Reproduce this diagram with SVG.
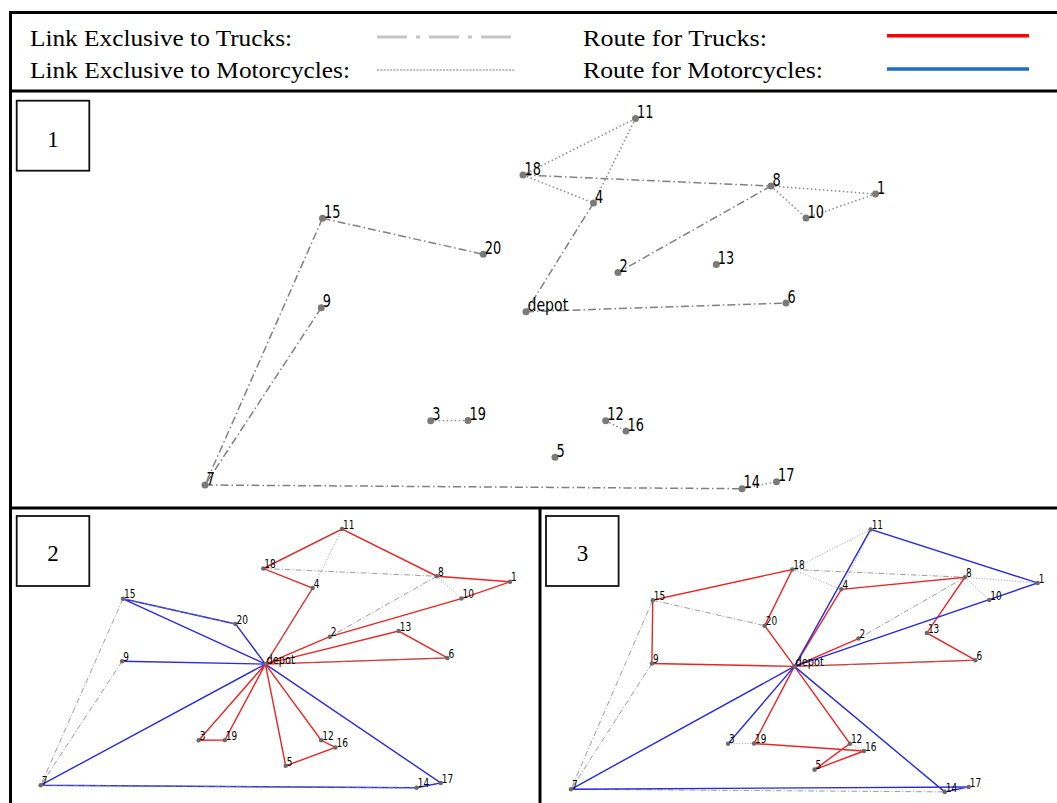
<svg xmlns="http://www.w3.org/2000/svg" width="1057" height="803" viewBox="0 0 1057 803">
<style>
.frame{stroke:#000;stroke-width:3;fill:none}
.nbox{fill:#fff;stroke:#111;stroke-width:1.8}
.ntxt{font-family:"Liberation Serif",serif;font-size:23px;fill:#000;text-anchor:middle}
.leg{font-family:"Liberation Serif",serif;font-size:24px;fill:#000}
.lb{font-family:"DejaVu Sans",sans-serif;font-size:18px;fill:#000}
.p1 circle{fill:#7a7a7a}
.p23 circle{fill:#6a6a6a}
.dd{stroke:#808080;stroke-width:1.5;fill:none;stroke-dasharray:8 3 1.5 3}
.dt{stroke:#8a8a8a;stroke-width:1.5;fill:none;stroke-dasharray:1.5 2.5}
.gdd{stroke:#9a9a9a;stroke-width:1.4;fill:none;stroke-dasharray:8 3 1.5 3}
.gdt{stroke:#a0a0a0;stroke-width:1.4;fill:none;stroke-dasharray:1.5 2.5}
.ov{stroke:#8a8a8a;stroke-width:1.6;fill:none;stroke-dasharray:8 3 1.5 3;opacity:0.6}
.r{stroke:#ea2424;stroke-width:2;fill:none}
.b{stroke:#2a2ade;stroke-width:2;fill:none}
</style>

<g id="frame">
<line class="frame" x1="9" y1="12.5" x2="1057" y2="12.5"/>
<line class="frame" x1="10.5" y1="11" x2="10.5" y2="803"/>
<line class="frame" x1="9" y1="91" x2="1057" y2="91"/>
<line class="frame" x1="9" y1="508" x2="1057" y2="508"/>
<line class="frame" x1="540" y1="508" x2="540" y2="803"/>
</g>

<g id="legend">
<text class="leg" x="30" y="45.5" textLength="262" lengthAdjust="spacingAndGlyphs">Link Exclusive to Trucks:</text>
<text class="leg" x="30" y="78" textLength="320" lengthAdjust="spacingAndGlyphs">Link Exclusive to Motorcycles:</text>
<text class="leg" x="583" y="45.5" textLength="184" lengthAdjust="spacingAndGlyphs">Route for Trucks:</text>
<text class="leg" x="583" y="78" textLength="240" lengthAdjust="spacingAndGlyphs">Route for Motorcycles:</text>
<line x1="377" y1="37" x2="512" y2="37" stroke="#c4c4c4" stroke-width="3" stroke-dasharray="30 9 4 9"/>
<line x1="377" y1="70" x2="515" y2="70" stroke="#bcbcbc" stroke-width="2.2" stroke-dasharray="2 1.3"/>
<line x1="887" y1="35.7" x2="1029" y2="35.7" stroke="#ff0000" stroke-width="3.5"/>
<line x1="887" y1="69" x2="1029" y2="69" stroke="#1a6fc4" stroke-width="3.5"/>
</g>

<g id="labels">
<rect class="nbox" x="16.7" y="100.7" width="72.6" height="70"/>
<text class="ntxt" x="53" y="146.5">1</text>
<rect class="nbox" x="16.7" y="516" width="72.6" height="70"/>
<text class="ntxt" x="53" y="561">2</text>
<rect class="nbox" x="546" y="516" width="72.6" height="70"/>
<text class="ntxt" x="582.5" y="561">3</text>
</g>

<!-- PANEL 1 -->
<g id="panel1" class="p1">
<g id="p1-edges">
<line class="dd" x1="523" y1="175" x2="771" y2="186"/>
<line class="dd" x1="593.5" y1="203" x2="526" y2="311.7"/>
<line class="dd" x1="771" y1="186" x2="618" y2="272.5"/>
<line class="dd" x1="526" y1="311.7" x2="786" y2="303"/>
<line class="dd" x1="322.5" y1="218.3" x2="483.3" y2="254.3"/>
<line class="dd" x1="322.5" y1="218.3" x2="205" y2="485"/>
<line class="dd" x1="321.3" y1="307.7" x2="205" y2="485"/>
<line class="dd" x1="205" y1="485" x2="742" y2="488.7"/>
<line class="dt" x1="523" y1="175" x2="635.5" y2="118.5"/>
<line class="dt" x1="635.5" y1="118.5" x2="593.5" y2="203"/>
<line class="dt" x1="523" y1="175" x2="593.5" y2="203"/>
<line class="dt" x1="771" y1="186" x2="875.5" y2="194"/>
<line class="dt" x1="771" y1="186" x2="806" y2="218"/>
<line class="dt" x1="806" y1="218" x2="875.5" y2="194"/>
<line class="dt" x1="430.7" y1="420.7" x2="468" y2="420.5"/>
<line class="dt" x1="605.7" y1="420.7" x2="626" y2="431"/>
<line class="dt" x1="742" y1="488.7" x2="776.5" y2="481.7"/>
</g>
<g id="p1-n11"><circle cx="635.5" cy="118.5" r="3.5"/><text class="lb" x="637" y="118" textLength="16.4" lengthAdjust="spacingAndGlyphs">11</text></g>
<g id="p1-n18"><circle cx="523" cy="175" r="3.5"/><text class="lb" x="524.5" y="174.5" textLength="16.4" lengthAdjust="spacingAndGlyphs">18</text></g>
<g id="p1-n4"><circle cx="593.5" cy="203" r="3.5"/><text class="lb" x="595" y="202.5" textLength="8.2" lengthAdjust="spacingAndGlyphs">4</text></g>
<g id="p1-n8"><circle cx="771" cy="186" r="3.5"/><text class="lb" x="772.5" y="185.5" textLength="8.2" lengthAdjust="spacingAndGlyphs">8</text></g>
<g id="p1-n1"><circle cx="875.5" cy="194" r="3.5"/><text class="lb" x="877" y="193.5" textLength="8.2" lengthAdjust="spacingAndGlyphs">1</text></g>
<g id="p1-n10"><circle cx="806" cy="218" r="3.5"/><text class="lb" x="807.5" y="217.5" textLength="16.4" lengthAdjust="spacingAndGlyphs">10</text></g>
<g id="p1-n15"><circle cx="322.5" cy="218.3" r="3.5"/><text class="lb" x="324" y="217.8" textLength="16.4" lengthAdjust="spacingAndGlyphs">15</text></g>
<g id="p1-n20"><circle cx="483.3" cy="254.3" r="3.5"/><text class="lb" x="484.8" y="253.8" textLength="16.4" lengthAdjust="spacingAndGlyphs">20</text></g>
<g id="p1-n2"><circle cx="618" cy="272.5" r="3.5"/><text class="lb" x="619.5" y="272" textLength="8.2" lengthAdjust="spacingAndGlyphs">2</text></g>
<g id="p1-n13"><circle cx="716.3" cy="264.5" r="3.5"/><text class="lb" x="717.8" y="264" textLength="16.4" lengthAdjust="spacingAndGlyphs">13</text></g>
<g id="p1-depot"><circle cx="526" cy="311.7" r="3.5"/><text class="lb" x="527.5" y="311.2" textLength="40.7" lengthAdjust="spacingAndGlyphs">depot</text></g>
<g id="p1-n6"><circle cx="786" cy="303" r="3.5"/><text class="lb" x="787.5" y="302.5" textLength="8.2" lengthAdjust="spacingAndGlyphs">6</text></g>
<g id="p1-n9"><circle cx="321.3" cy="307.7" r="3.5"/><text class="lb" x="322.8" y="307.2" textLength="8.2" lengthAdjust="spacingAndGlyphs">9</text></g>
<g id="p1-n3"><circle cx="430.7" cy="420.7" r="3.5"/><text class="lb" x="432.2" y="420.2" textLength="8.2" lengthAdjust="spacingAndGlyphs">3</text></g>
<g id="p1-n19"><circle cx="468" cy="420.5" r="3.5"/><text class="lb" x="469.5" y="420" textLength="16.4" lengthAdjust="spacingAndGlyphs">19</text></g>
<g id="p1-n12"><circle cx="605.7" cy="420.7" r="3.5"/><text class="lb" x="607.2" y="420.2" textLength="16.4" lengthAdjust="spacingAndGlyphs">12</text></g>
<g id="p1-n16"><circle cx="626" cy="431" r="3.5"/><text class="lb" x="627.5" y="430.5" textLength="16.4" lengthAdjust="spacingAndGlyphs">16</text></g>
<g id="p1-n5"><circle cx="555" cy="457.3" r="3.5"/><text class="lb" x="556.5" y="456.8" textLength="8.2" lengthAdjust="spacingAndGlyphs">5</text></g>
<g id="p1-n7"><circle cx="205" cy="485" r="3.5"/><text class="lb" x="206.5" y="484.5" textLength="8.2" lengthAdjust="spacingAndGlyphs">7</text></g>
<g id="p1-n14"><circle cx="742" cy="488.7" r="3.5"/><text class="lb" x="743.5" y="488.2" textLength="16.4" lengthAdjust="spacingAndGlyphs">14</text></g>
<g id="p1-n17"><circle cx="776.5" cy="481.7" r="3.5"/><text class="lb" x="778" y="481.2" textLength="16.4" lengthAdjust="spacingAndGlyphs">17</text></g>
</g>

<!-- PANEL 2 -->
<g id="panel2" class="p23" transform="matrix(0.700 0 0 0.699 -102.8 446.2)">
<g id="p2-edges">
<line class="gdt" x1="635.5" y1="118.5" x2="593.5" y2="203"/>
<line class="gdt" x1="771" y1="186" x2="806" y2="218"/>
<line class="gdd" x1="523" y1="175" x2="771" y2="186"/>
<line class="gdd" x1="771" y1="186" x2="618" y2="272.5"/>
<line class="gdd" x1="322.5" y1="218.3" x2="205" y2="485"/>
<line class="gdd" x1="321.3" y1="307.7" x2="205" y2="485"/>
<polyline class="b" points="526,311.7 322.5,218.3 483.3,254.3 526,311.7"/>
<line class="b" x1="526" y1="311.7" x2="321.3" y2="307.7"/>
<polyline class="b" points="526,311.7 205,485 742,488.7 776.5,481.7 526,311.7"/>
<polyline class="r" points="526,311.7 593.5,203 523,175 635.5,118.5 771,186 875.5,194 806,218 618,272.5 526,311.7"/>
<polyline class="r" points="526,311.7 716.3,264.5 786,303 526,311.7"/>
<polyline class="r" points="526,311.7 430.7,420.7 468,420.5 526,311.7"/>
<polyline class="r" points="526,311.7 605.7,420.7 626,431 555,457.3 526,311.7"/>
<line class="ov" x1="322.5" y1="218.3" x2="483.3" y2="254.3"/>
<line class="ov" x1="205" y1="485" x2="742" y2="488.7"/>
<line class="ov" x1="593.5" y1="203" x2="526" y2="311.7"/>
<line class="ov" x1="526" y1="311.7" x2="786" y2="303"/>
</g>
<g id="p2-n11"><circle cx="635.5" cy="118.5" r="3.2"/><text class="lb" x="637" y="118" textLength="16.4" lengthAdjust="spacingAndGlyphs">11</text></g>
<g id="p2-n18"><circle cx="523" cy="175" r="3.2"/><text class="lb" x="524.5" y="174.5" textLength="16.4" lengthAdjust="spacingAndGlyphs">18</text></g>
<g id="p2-n4"><circle cx="593.5" cy="203" r="3.2"/><text class="lb" x="595" y="202.5" textLength="8.2" lengthAdjust="spacingAndGlyphs">4</text></g>
<g id="p2-n8"><circle cx="771" cy="186" r="3.2"/><text class="lb" x="772.5" y="185.5" textLength="8.2" lengthAdjust="spacingAndGlyphs">8</text></g>
<g id="p2-n1"><circle cx="875.5" cy="194" r="3.2"/><text class="lb" x="877" y="193.5" textLength="8.2" lengthAdjust="spacingAndGlyphs">1</text></g>
<g id="p2-n10"><circle cx="806" cy="218" r="3.2"/><text class="lb" x="807.5" y="217.5" textLength="16.4" lengthAdjust="spacingAndGlyphs">10</text></g>
<g id="p2-n15"><circle cx="322.5" cy="218.3" r="3.2"/><text class="lb" x="324" y="217.8" textLength="16.4" lengthAdjust="spacingAndGlyphs">15</text></g>
<g id="p2-n20"><circle cx="483.3" cy="254.3" r="3.2"/><text class="lb" x="484.8" y="253.8" textLength="16.4" lengthAdjust="spacingAndGlyphs">20</text></g>
<g id="p2-n2"><circle cx="618" cy="272.5" r="3.2"/><text class="lb" x="619.5" y="272" textLength="8.2" lengthAdjust="spacingAndGlyphs">2</text></g>
<g id="p2-n13"><circle cx="716.3" cy="264.5" r="3.2"/><text class="lb" x="717.8" y="264" textLength="16.4" lengthAdjust="spacingAndGlyphs">13</text></g>
<g id="p2-depot"><circle cx="526" cy="311.7" r="3.2"/><text class="lb" x="527.5" y="311.2" textLength="40.7" lengthAdjust="spacingAndGlyphs">depot</text></g>
<g id="p2-n6"><circle cx="786" cy="303" r="3.2"/><text class="lb" x="787.5" y="302.5" textLength="8.2" lengthAdjust="spacingAndGlyphs">6</text></g>
<g id="p2-n9"><circle cx="321.3" cy="307.7" r="3.2"/><text class="lb" x="322.8" y="307.2" textLength="8.2" lengthAdjust="spacingAndGlyphs">9</text></g>
<g id="p2-n3"><circle cx="430.7" cy="420.7" r="3.2"/><text class="lb" x="432.2" y="420.2" textLength="8.2" lengthAdjust="spacingAndGlyphs">3</text></g>
<g id="p2-n19"><circle cx="468" cy="420.5" r="3.2"/><text class="lb" x="469.5" y="420" textLength="16.4" lengthAdjust="spacingAndGlyphs">19</text></g>
<g id="p2-n12"><circle cx="605.7" cy="420.7" r="3.2"/><text class="lb" x="607.2" y="420.2" textLength="16.4" lengthAdjust="spacingAndGlyphs">12</text></g>
<g id="p2-n16"><circle cx="626" cy="431" r="3.2"/><text class="lb" x="627.5" y="430.5" textLength="16.4" lengthAdjust="spacingAndGlyphs">16</text></g>
<g id="p2-n5"><circle cx="555" cy="457.3" r="3.2"/><text class="lb" x="556.5" y="456.8" textLength="8.2" lengthAdjust="spacingAndGlyphs">5</text></g>
<g id="p2-n7"><circle cx="205" cy="485" r="3.2"/><text class="lb" x="206.5" y="484.5" textLength="8.2" lengthAdjust="spacingAndGlyphs">7</text></g>
<g id="p2-n14"><circle cx="742" cy="488.7" r="3.2"/><text class="lb" x="743.5" y="488.2" textLength="16.4" lengthAdjust="spacingAndGlyphs">14</text></g>
<g id="p2-n17"><circle cx="776.5" cy="481.7" r="3.2"/><text class="lb" x="778" y="481.2" textLength="16.4" lengthAdjust="spacingAndGlyphs">17</text></g>
</g>

<!-- PANEL 3 -->
<g id="panel3" class="p23" transform="matrix(0.696 0 0 0.709 428.3 445.4)">
<g id="p3-edges">
<line class="gdt" x1="523" y1="175" x2="635.5" y2="118.5"/>
<line class="gdt" x1="523" y1="175" x2="593.5" y2="203"/>
<line class="gdt" x1="635.5" y1="118.5" x2="593.5" y2="203"/>
<line class="gdt" x1="771" y1="186" x2="875.5" y2="194"/>
<line class="gdt" x1="771" y1="186" x2="806" y2="218"/>
<line class="gdt" x1="430.7" y1="420.7" x2="468" y2="420.5"/>
<line class="gdt" x1="605.7" y1="420.7" x2="626" y2="431"/>
<line class="gdd" x1="523" y1="175" x2="771" y2="186"/>
<line class="gdd" x1="771" y1="186" x2="618" y2="272.5"/>
<line class="gdd" x1="322.5" y1="218.3" x2="483.3" y2="254.3"/>
<line class="gdd" x1="322.5" y1="218.3" x2="205" y2="485"/>
<line class="gdd" x1="321.3" y1="307.7" x2="205" y2="485"/>
<line class="gdd" x1="205" y1="485" x2="742" y2="488.7"/>
<polyline class="r" points="526,311.7 483.3,254.3 523,175 322.5,218.3 321.3,307.7 526,311.7"/>
<polyline class="r" points="526,311.7 593.5,203 771,186 716.3,264.5 786,303 526,311.7"/>
<line class="r" x1="526" y1="311.7" x2="618" y2="272.5"/>
<polyline class="r" points="526,311.7 605.7,420.7 555,457.3 626,431 468,420.5 526,311.7"/>
<line class="ov" x1="526" y1="311.7" x2="786" y2="303"/>
<polyline class="b" points="526,311.7 635.5,118.5 875.5,194 526,311.7"/>
<line class="b" x1="526" y1="311.7" x2="430.7" y2="420.7"/>
<polyline class="b" points="526,311.7 205,485 776.5,481.7 742,488.7 526,311.7"/>
</g>
<g id="p3-n11"><circle cx="635.5" cy="118.5" r="3.2"/><text class="lb" x="637" y="118" textLength="16.4" lengthAdjust="spacingAndGlyphs">11</text></g>
<g id="p3-n18"><circle cx="523" cy="175" r="3.2"/><text class="lb" x="524.5" y="174.5" textLength="16.4" lengthAdjust="spacingAndGlyphs">18</text></g>
<g id="p3-n4"><circle cx="593.5" cy="203" r="3.2"/><text class="lb" x="595" y="202.5" textLength="8.2" lengthAdjust="spacingAndGlyphs">4</text></g>
<g id="p3-n8"><circle cx="771" cy="186" r="3.2"/><text class="lb" x="772.5" y="185.5" textLength="8.2" lengthAdjust="spacingAndGlyphs">8</text></g>
<g id="p3-n1"><circle cx="875.5" cy="194" r="3.2"/><text class="lb" x="877" y="193.5" textLength="8.2" lengthAdjust="spacingAndGlyphs">1</text></g>
<g id="p3-n10"><circle cx="806" cy="218" r="3.2"/><text class="lb" x="807.5" y="217.5" textLength="16.4" lengthAdjust="spacingAndGlyphs">10</text></g>
<g id="p3-n15"><circle cx="322.5" cy="218.3" r="3.2"/><text class="lb" x="324" y="217.8" textLength="16.4" lengthAdjust="spacingAndGlyphs">15</text></g>
<g id="p3-n20"><circle cx="483.3" cy="254.3" r="3.2"/><text class="lb" x="484.8" y="253.8" textLength="16.4" lengthAdjust="spacingAndGlyphs">20</text></g>
<g id="p3-n2"><circle cx="618" cy="272.5" r="3.2"/><text class="lb" x="619.5" y="272" textLength="8.2" lengthAdjust="spacingAndGlyphs">2</text></g>
<g id="p3-n13"><circle cx="716.3" cy="264.5" r="3.2"/><text class="lb" x="717.8" y="264" textLength="16.4" lengthAdjust="spacingAndGlyphs">13</text></g>
<g id="p3-depot"><circle cx="526" cy="311.7" r="3.2"/><text class="lb" x="527.5" y="311.2" textLength="40.7" lengthAdjust="spacingAndGlyphs">depot</text></g>
<g id="p3-n6"><circle cx="786" cy="303" r="3.2"/><text class="lb" x="787.5" y="302.5" textLength="8.2" lengthAdjust="spacingAndGlyphs">6</text></g>
<g id="p3-n9"><circle cx="321.3" cy="307.7" r="3.2"/><text class="lb" x="322.8" y="307.2" textLength="8.2" lengthAdjust="spacingAndGlyphs">9</text></g>
<g id="p3-n3"><circle cx="430.7" cy="420.7" r="3.2"/><text class="lb" x="432.2" y="420.2" textLength="8.2" lengthAdjust="spacingAndGlyphs">3</text></g>
<g id="p3-n19"><circle cx="468" cy="420.5" r="3.2"/><text class="lb" x="469.5" y="420" textLength="16.4" lengthAdjust="spacingAndGlyphs">19</text></g>
<g id="p3-n12"><circle cx="605.7" cy="420.7" r="3.2"/><text class="lb" x="607.2" y="420.2" textLength="16.4" lengthAdjust="spacingAndGlyphs">12</text></g>
<g id="p3-n16"><circle cx="626" cy="431" r="3.2"/><text class="lb" x="627.5" y="430.5" textLength="16.4" lengthAdjust="spacingAndGlyphs">16</text></g>
<g id="p3-n5"><circle cx="555" cy="457.3" r="3.2"/><text class="lb" x="556.5" y="456.8" textLength="8.2" lengthAdjust="spacingAndGlyphs">5</text></g>
<g id="p3-n7"><circle cx="205" cy="485" r="3.2"/><text class="lb" x="206.5" y="484.5" textLength="8.2" lengthAdjust="spacingAndGlyphs">7</text></g>
<g id="p3-n14"><circle cx="742" cy="488.7" r="3.2"/><text class="lb" x="743.5" y="488.2" textLength="16.4" lengthAdjust="spacingAndGlyphs">14</text></g>
<g id="p3-n17"><circle cx="776.5" cy="481.7" r="3.2"/><text class="lb" x="778" y="481.2" textLength="16.4" lengthAdjust="spacingAndGlyphs">17</text></g>
</g>
</svg>
